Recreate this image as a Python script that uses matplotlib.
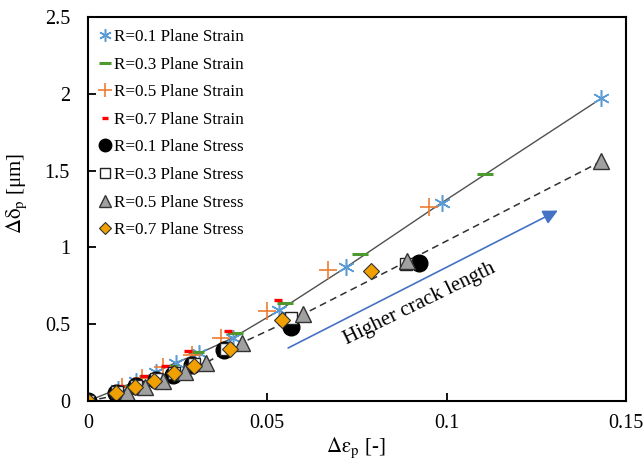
import matplotlib.pyplot as plt

plt.rcParams['font.family'] = ['Liberation Serif', 'DejaVu Serif']
plt.rcParams['mathtext.fontset'] = 'stix'

# Plane strain results (delta eps_p [-], delta delta_p [um])
r01_strain_x = [0, 0.0085, 0.0135, 0.019, 0.0245, 0.031, 0.0403, 0.0533, 0.0719, 0.0986, 0.1431]
r01_strain_y = [0, 0.08, 0.13, 0.19, 0.25, 0.31, 0.41, 0.59, 0.87, 1.29, 1.97]
r03_strain_x = [0, 0.010, 0.0165, 0.0228, 0.030, 0.041, 0.055, 0.0758, 0.1106]
r03_strain_y = [0, 0.10, 0.165, 0.23, 0.32, 0.44, 0.64, 0.96, 1.48]
r05_strain_x = [0, 0.0095, 0.015, 0.021, 0.0289, 0.037, 0.050, 0.067, 0.095]
r05_strain_y = [0, 0.09, 0.15, 0.22, 0.30, 0.41, 0.585, 0.85, 1.26]
r07_strain_x = [0, 0.009, 0.0155, 0.0215, 0.028, 0.039, 0.053]
r07_strain_y = [0, 0.10, 0.16, 0.23, 0.325, 0.455, 0.66]

# Plane stress results
r01_stress_x = [0, 0.0078, 0.0135, 0.019, 0.0236, 0.029, 0.038, 0.0567, 0.0922]
r01_stress_y = [0, 0.055, 0.095, 0.14, 0.17, 0.235, 0.33, 0.48, 0.90]
r03_stress_x = [0, 0.008, 0.0135, 0.019, 0.024, 0.0295, 0.0385, 0.0567, 0.0886]
r03_stress_y = [0, 0.06, 0.10, 0.145, 0.18, 0.24, 0.34, 0.54, 0.89]
r05_stress_x = [0, 0.011, 0.016, 0.021, 0.027, 0.033, 0.043, 0.060, 0.089, 0.1431]
r05_stress_y = [0, 0.05, 0.09, 0.13, 0.19, 0.25, 0.38, 0.565, 0.91, 1.56]
r07_stress_x = [0, 0.0078, 0.013, 0.0185, 0.024, 0.0295, 0.0395, 0.054, 0.079]
r07_stress_y = [0, 0.05, 0.09, 0.13, 0.18, 0.23, 0.34, 0.53, 0.845]

fig = plt.figure(figsize=(6.44, 4.67), dpi=100)
ax = fig.add_axes([0.1366, 0.1413, 0.8354, 0.8223])

# Trend lines for plane strain (solid) and plane stress (dashed)
ax.plot(r01_strain_x, r01_strain_y, color='#505050', lw=1.0, zorder=1)
ax.plot(r05_stress_x, r05_stress_y, color='#303030', lw=1.1, ls=(0, (4.5, 3)), zorder=1)

ax.plot(r01_strain_x, r01_strain_y, ls='none', marker=(6, 2, 0), ms=12, mew=1.1,
        color='#5B9BD5', label='R=0.1 Plane Strain')
ax.plot(r03_strain_x, r03_strain_y, ls='none', marker='_', ms=11, mew=2.2,
        color='#4E9A2E', label='R=0.3 Plane Strain')
ax.plot(r05_strain_x, r05_strain_y, ls='none', marker='+', ms=13, mew=1.2,
        color='#ED7D31', label='R=0.5 Plane Strain')
ax.plot(r07_strain_x, r07_strain_y, ls='none', marker='_', ms=6, mew=2.4,
        color='#FF0000', label='R=0.7 Plane Strain')

ax.plot(r01_stress_x, r01_stress_y, ls='none', marker='o', ms=12,
        mfc='black', mec='black', label='R=0.1 Plane Stress')
ax.plot(r03_stress_x, r03_stress_y, ls='none', marker='s', ms=9, mew=1.0,
        mfc='white', mec='#222222', label='R=0.3 Plane Stress')
ax.plot(r05_stress_x, r05_stress_y, ls='none', marker='^', ms=11, mew=1.0,
        mfc='#A0A0A0', mec='#333333', label='R=0.5 Plane Stress')
ax.plot(r07_stress_x, r07_stress_y, ls='none', marker='D', ms=8, mew=0.8,
        mfc='#F0A000', mec='#333333', label='R=0.7 Plane Stress')

# Direction of increasing crack length
ax.annotate('', xy=(0.131, 1.24), xytext=(0.0558, 0.345),
            arrowprops=dict(arrowstyle='-|>', color='#4472C4', lw=1.2,
                            mutation_scale=22, shrinkA=0, shrinkB=0))
ax.text(0.0925, 0.63, 'Higher crack length', rotation=26, rotation_mode='anchor',
        ha='center', va='center', fontsize=15)

ax.set_xlim(0, 0.15)
ax.set_ylim(0, 2.5)
ax.set_xticks([0, 0.05, 0.1, 0.15])
ax.set_xticklabels(['0', '0.05', '0.1', '0.15'])
ax.set_yticks([0, 0.5, 1, 1.5, 2, 2.5])
ax.set_yticklabels(['0', '0.5', '1', '1.5', '2', '2.5'])
ax.tick_params(axis='both', direction='in', length=6, width=1.3, labelsize=14.5)
ax.tick_params(axis='x', pad=9)
ax.tick_params(axis='y', pad=13)
for sp in ax.spines.values():
    sp.set_linewidth(1.5)

ax.set_xlabel(r'$\mathrm{\Delta\varepsilon_p}$ [-]', fontsize=15)
ax.set_ylabel(r'$\mathrm{\Delta\delta_p}$ [μm]', fontsize=15)
ax.xaxis.set_label_coords(0.498, -0.09)
ax.yaxis.set_label_coords(-0.11, 0.54)

ax.legend(loc='upper left', bbox_to_anchor=(-0.005, 1.0), frameon=False,
          fontsize=12.3, markerscale=0.75, handlelength=0.9, handletextpad=0.1,
          labelspacing=0.68, borderaxespad=0.3, numpoints=1)

fig.savefig('out.png', dpi=100)
